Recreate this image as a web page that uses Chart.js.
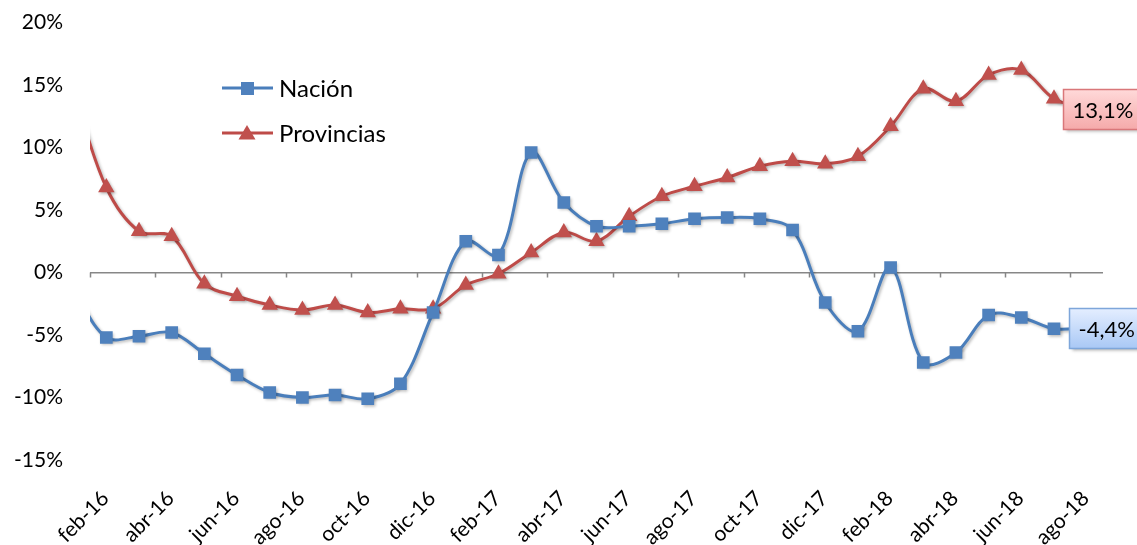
<!DOCTYPE html>
<html>
<head>
<meta charset="utf-8">
<script src="https://cdn.jsdelivr.net/npm/chart.js@4/dist/chart.umd.min.js"></script>
<style>
  html, body { margin: 0; padding: 0; background: #fff; }
  canvas { display: block; }
</style>
</head>
<body>
<canvas id="chart" width="1137" height="545"></canvas>
<script>
// ---- data ----
const meses = [
    "ene-16", "feb-16", "mar-16", "abr-16", "may-16", "jun-16", "jul-16", "ago-16",
    "sep-16", "oct-16", "nov-16", "dic-16",
    "ene-17", "feb-17", "mar-17", "abr-17", "may-17", "jun-17", "jul-17", "ago-17",
    "sep-17", "oct-17", "nov-17", "dic-17",
    "ene-18", "feb-18", "mar-18", "abr-18", "may-18", "jun-18", "jul-18", "ago-18",
];
const primerMesVisible = "feb-16";

const nacion = [
    -1.4, -5.2, -5.1, -4.8, -6.5, -8.2, -9.6, -10.0, -9.8, -10.1, -8.9, -3.2,
    2.5, 1.4, 9.6, 5.6, 3.7, 3.7, 3.9, 4.3, 4.4, 4.3, 3.4, -2.4,
    -4.7, 0.4, -7.2, -6.4, -3.4, -3.6, -4.5, -4.4,
];
const provincias = [
    14.5, 6.8, 3.3, 2.9, -0.9, -1.9, -2.6, -3.0, -2.6, -3.2, -2.9, -2.9,
    -1.0, -0.1, 1.6, 3.2, 2.5, 4.5, 6.1, 6.9, 7.6, 8.5, 8.9, 8.7,
    9.3, 11.7, 14.7, 13.7, 15.8, 16.2, 13.9, 13.1,
];

const yMin = -15;
const yMax = 20;
const yPaso = 5;

const FONT = "Lato, 'Liberation Sans', sans-serif";
const AZUL = "#4A7EBB";
const ROJO = "#BE4B48";

// ---- plugins ----
// sombra suave bajo las series (como en Excel)
const sombraPlugin = {
    id: "sombra",
    beforeDatasetDraw(chart) {
        const ctx = chart.ctx;
        ctx.save();
        ctx.shadowColor = "rgba(0,0,0,0.28)";
        ctx.shadowBlur = 3;
        ctx.shadowOffsetX = 1.5;
        ctx.shadowOffsetY = 1.5;
    },
    afterDatasetDraw(chart) {
        chart.ctx.restore();
    },
};

// marcas de eje sobre la linea del 0%
const marcasPlugin = {
    id: "marcas",
    beforeDatasetsDraw(chart) {
        const x = chart.scales.x;
        const y0 = chart.scales.y.getPixelForValue(0);
        const ancho = x.getPixelForValue(2) - x.getPixelForValue(1);
        const ctx = chart.ctx;
        ctx.save();
        ctx.strokeStyle = "#878787";
        ctx.lineWidth = 1.5;
        ctx.beginPath();
        for (let i = 1; i < meses.length; i += 2) {
            const px = Math.round(x.getPixelForValue(i) - ancho / 2) + 0.5;
            ctx.moveTo(px, y0);
            ctx.lineTo(px, y0 + 5);
        }
        ctx.stroke();
        ctx.restore();
    },
};

// leyenda dentro del area del grafico
const leyendaPlugin = {
    id: "leyendaInterna",
    afterDatasetsDraw(chart) {
        const ctx = chart.ctx;
        const items = [
            { ds: chart.data.datasets[0], y: 88 },
            { ds: chart.data.datasets[1], y: 133 },
        ];
        ctx.save();
        items.forEach(({ ds, y }) => {
            ctx.strokeStyle = ds.borderColor;
            ctx.lineWidth = 3;
            ctx.beginPath();
            ctx.moveTo(222, y);
            ctx.lineTo(273, y);
            ctx.stroke();
            ctx.fillStyle = ds.pointBackgroundColor;
            if (ds.pointStyle === "rect") {
                ctx.fillRect(241, y - 6, 13, 13);
            } else {
                ctx.beginPath();
                ctx.moveTo(247, y - 8);
                ctx.lineTo(255.5, y + 6.5);
                ctx.lineTo(238.5, y + 6.5);
                ctx.closePath();
                ctx.fill();
            }
            ctx.fillStyle = "#000";
            ctx.font = "24px " + FONT;
            ctx.textBaseline = "middle";
            ctx.textAlign = "left";
            ctx.fillText(ds.label, 279, y + 1);
        });
        ctx.restore();
    },
};

// etiqueta con el ultimo valor de cada serie
const etiquetaPlugin = {
    id: "etiquetaFinal",
    afterDatasetsDraw(chart) {
        const ctx = chart.ctx;
        const estilos = [
            { borde: "#7EA6DA", arriba: "#E4EEFF", abajo: "#A9C8F5", dx: -18 },
            { borde: "#D9777A", arriba: "#FFD9D9", abajo: "#F5AAAA", dx: -24 },
        ];
        chart.data.datasets.forEach((ds, i) => {
            const meta = chart.getDatasetMeta(i);
            const ultimo = meta.data[meta.data.length - 1];
            const valor = ds.data[ds.data.length - 1];
            const texto = valor.toFixed(1).replace(".", ",") + "%";
            const st = estilos[i];
            ctx.save();
            ctx.font = "22px " + FONT;
            const w = ctx.measureText(texto).width + 18;
            const h = 40;
            const bx = Math.round(ultimo.x + st.dx) + 0.5;
            const by = Math.round(ultimo.y - h / 2) + 0.5;
            ctx.shadowColor = "rgba(0,0,0,0.3)";
            ctx.shadowBlur = 3;
            ctx.shadowOffsetX = 2;
            ctx.shadowOffsetY = 2;
            const grad = ctx.createLinearGradient(0, by, 0, by + h);
            grad.addColorStop(0, st.arriba);
            grad.addColorStop(1, st.abajo);
            ctx.fillStyle = grad;
            ctx.fillRect(bx, by, w, h);
            ctx.shadowColor = "transparent";
            ctx.strokeStyle = st.borde;
            ctx.lineWidth = 1.5;
            ctx.strokeRect(bx, by, w, h);
            ctx.fillStyle = "#000";
            ctx.textBaseline = "middle";
            ctx.textAlign = "left";
            ctx.fillText(texto, bx + 9, by + h / 2 + 1);
            ctx.restore();
        });
    },
};

// ---- chart ----
const serie = (label, data, color, estilo, radio) => ({
    label: label,
    data: data,
    borderColor: color,
    borderWidth: 3,
    pointStyle: estilo,
    pointRadius: radio,
    pointHoverRadius: radio,
    pointBackgroundColor: color === AZUL ? "#4F81BD" : "#C0504D",
    pointBorderWidth: 0,
    tension: 0.35,
    clip: 0,
});

new Chart(document.getElementById("chart"), {
    type: "line",
    data: {
        labels: meses,
        datasets: [
            serie("Nación", nacion, AZUL, "rect", 9),
            serie("Provincias", provincias, ROJO, "triangle", 9.5),
        ],
    },
    options: {
        responsive: false,
        animation: false,
        devicePixelRatio: 1,
        layout: { padding: { left: 0, right: 34, top: 22.5, bottom: 0 } },
        plugins: {
            legend: { display: false },
            tooltip: { enabled: false },
        },
        scales: {
            x: {
                type: "category",
                min: primerMesVisible,
                offset: true,
                grid: { display: false, drawTicks: false },
                border: { display: false },
                ticks: {
                    autoSkip: false,
                    minRotation: 45,
                    maxRotation: 45,
                    padding: 26,
                    labelOffset: -1,
                    color: "#000",
                    font: { family: FONT, size: 21 },
                    callback: function (value, index) {
                        return index % 2 === 0 ? this.getLabelForValue(value) : "";
                    },
                },
                afterFit: (scale) => { scale.height = 85; },
            },
            y: {
                min: yMin,
                max: yMax,
                border: { display: false },
                grid: {
                    drawTicks: true,
                    tickLength: 27,
                    tickColor: "transparent",
                    lineWidth: 1.5,
                    color: (c) => (c.tick && c.tick.value === 0 ? "#878787" : "transparent"),
                },
                ticks: {
                    stepSize: yPaso,
                    padding: 0,
                    color: "#000",
                    font: { family: FONT, size: 21 },
                    callback: (v) => v + "%",
                },
                afterFit: (scale) => { scale.width = 90; },
            },
        },
    },
    plugins: [marcasPlugin, sombraPlugin, leyendaPlugin, etiquetaPlugin],
});
</script>
</body>
</html>
